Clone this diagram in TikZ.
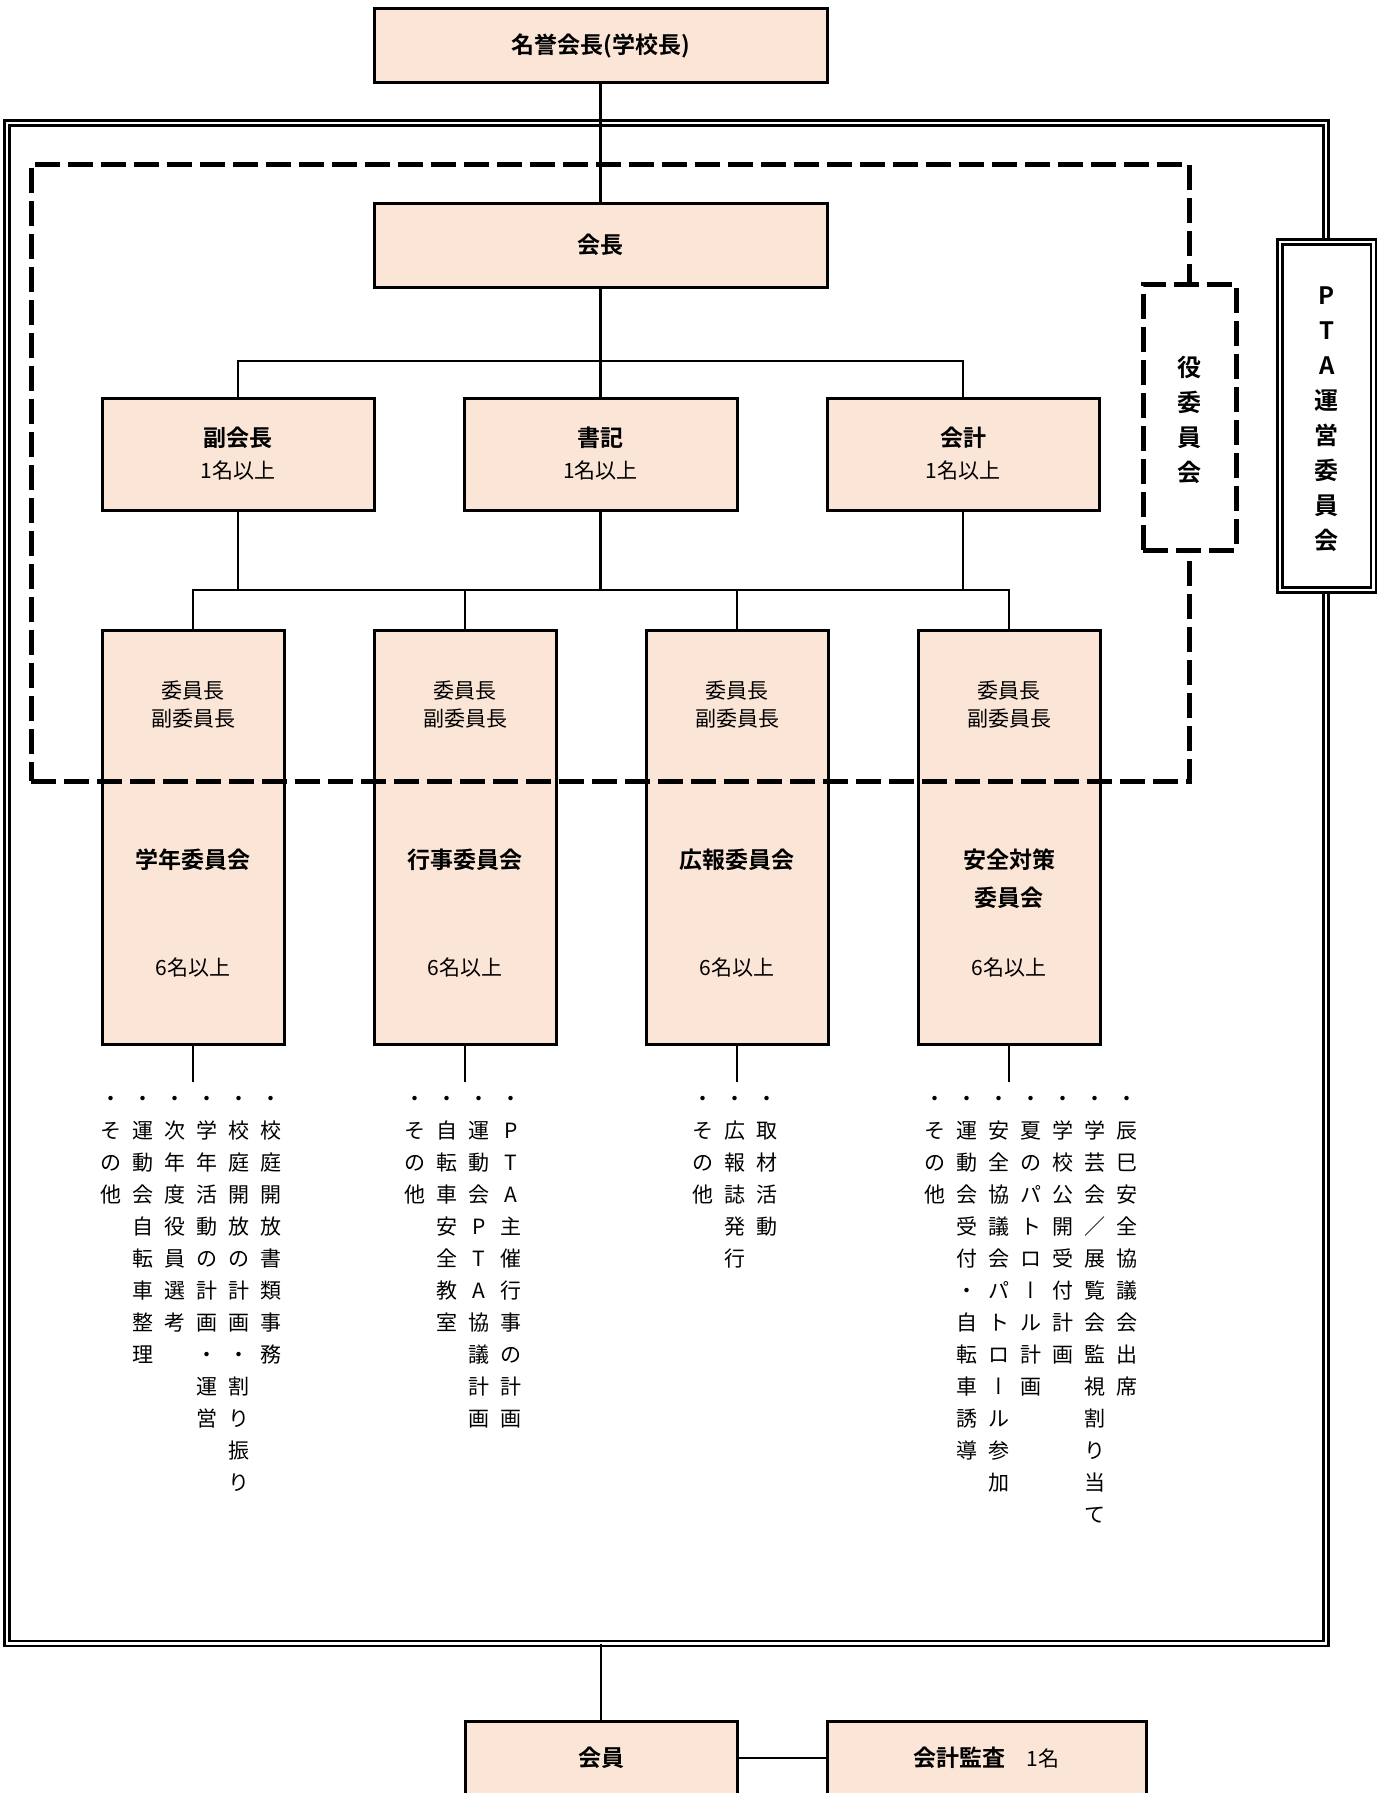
\documentclass[tikz,border=0pt]{standalone}
\usepackage{fontspec}
\setmainfont{Noto Sans CJK JP}[BoldFont={Noto Sans CJK JP Bold}]
\newfontfamily\tatevert{Noto Sans CJK JP}[RawFeature=+vert]
\definecolor{BoxClr}{HTML}{FBE5D6}

\begin{document}
\begin{tikzpicture}[x=0.5pt,y=-0.5pt,
  box/.style={draw,line width=1.5pt,fill=BoxClr,inner sep=0pt,outer sep=0pt},
  link/.style={line width=1.35pt},
  dframe/.style={draw,double,line width=1.35pt,double distance=1.25pt,inner sep=0pt,outer sep=0pt},
  yframe/.style={draw,line width=2.5pt,dash pattern=on 12.5pt off 4pt,inner sep=0pt,outer sep=0pt},
  title/.style={font=\bfseries\fontsize{11.5pt}{19pt}\selectfont},
  memo/.style={font=\fontsize{10.5pt}{14pt}\selectfont},
  tate/.style={inner sep=0pt,text height=9.2pt,text depth=1.3pt,font=\fontsize{10.5pt}{12pt}\selectfont},
  tatebold/.style={inner sep=0pt,text height=10.5pt,text depth=1.5pt,font=\bfseries\fontsize{12pt}{14pt}\selectfont}]
\useasboundingbox (0,0) rectangle (1383,1793);
\clip (0,0) rectangle (1383,1793);

% The PTA frame (double line).
\node[dframe,minimum width=659.6pt,minimum height=760.25pt] (unei) at (666.4,883.25) {};

% Draw the boxes.
\node[box,title,minimum width=226.5pt,minimum height=37pt] (meiyo) at (600.5,46) {名誉会長(学校長)};
\node[box,title,minimum width=226.5pt,minimum height=42pt] (kaicho) at (600.5,245) {会長};

\node[box,minimum width=136pt,minimum height=56pt] (fuku) at (238,454) {};
\node[box,minimum width=136.5pt,minimum height=56pt] (shoki) at (600.5,454) {};
\node[box,minimum width=136pt,minimum height=56pt] (kaikei) at (963,454) {};

\node[box,minimum width=91pt,minimum height=207pt] (gakunen) at (193,837) {};
\node[box,minimum width=91pt,minimum height=207pt] (gyoji) at (465,837) {};
\node[box,minimum width=91pt,minimum height=207pt] (koho) at (737,837) {};
\node[box,minimum width=91pt,minimum height=207pt] (anzen) at (1009,837) {};

\node[box,title,minimum width=136pt,minimum height=37pt] (kaiin) at (601,1758) {会員};
\node[box,memo,minimum width=159.5pt,minimum height=37pt] (kansa) at (986.5,1758) {{\bfseries\fontsize{11.5pt}{14pt}\selectfont 会計監査}\quad 1名};

% Connect the boxes.
\coordinate (bar1) at (600.5,361);
\coordinate (bar2) at (600.5,590);
\draw[link] (meiyo.south) -- (kaicho.north);
\draw[link] (kaicho.south) -- (shoki.north);
\draw[link] (fuku.north) |- (bar1) -| (kaikei.north);
\draw[link] (shoki.south) -- (bar2);
\draw[link] (fuku.south) -- (fuku.south |- bar2);
\draw[link] (kaikei.south) -- (kaikei.south |- bar2);
\draw[link] (gakunen.north) |- (bar2) -| (anzen.north);
\draw[link] (gyoji.north) -- (gyoji.north |- bar2);
\draw[link] (koho.north) -- (koho.north |- bar2);

\draw[link] (gakunen.south) -- ++(0,38);
\draw[link] (gyoji.south) -- ++(0,38);
\draw[link] (koho.south) -- ++(0,38);
\draw[link] (anzen.south) -- ++(0,38);

\draw[link] (kaiin.north) -- (kaiin.north |- unei.south);
\draw[link] (kaiin.east) -- (kansa.west);

% The officers' frame (dashed) and the two side labels.
\node[yframe,minimum width=579pt,minimum height=308.5pt] (yakuF) at (610,472.5) {};
\node[yframe,fill=white,minimum width=46.5pt,minimum height=133pt] (yakuin) at (1189.5,417) {};
\node[dframe,fill=white,minimum width=46.75pt,minimum height=174pt] (pta) at (1326.75,416) {};

\foreach \c [count=\i from 0] in {役,委,員,会}
  \node[tatebold] (yakuin-\i) at (1189.5,367+35*\i) {\c};
\foreach \c [count=\i from 0] in {P,T,A,運,営,委,員,会}
  \node[tatebold] (pta-\i) at (1326.75,295+35*\i) {\c};

% Texts in the boxes.
\node[title] (fukuN) at ([yshift=-20pt]fuku.north) {副会長};
\node[memo] (fukuC) at ([yshift=-36.5pt]fuku.north) {1名以上};
\node[title] (shokiN) at ([yshift=-20pt]shoki.north) {書記};
\node[memo] (shokiC) at ([yshift=-36.5pt]shoki.north) {1名以上};
\node[title] (kaikeiN) at ([yshift=-20pt]kaikei.north) {会計};
\node[memo] (kaikeiC) at ([yshift=-36.5pt]kaikei.north) {1名以上};

\node[memo,align=center] (gakunenY) at ([yshift=-37.5pt]gakunen.north) {委員長\\副委員長};
\node[title] (gakunenN) at ([yshift=-115pt]gakunen.north) {学年委員会};
\node[memo] (gakunenC) at ([yshift=-169pt]gakunen.north) {6名以上};

\node[memo,align=center] (gyojiY) at ([yshift=-37.5pt]gyoji.north) {委員長\\副委員長};
\node[title] (gyojiN) at ([yshift=-115pt]gyoji.north) {行事委員会};
\node[memo] (gyojiC) at ([yshift=-169pt]gyoji.north) {6名以上};

\node[memo,align=center] (kohoY) at ([yshift=-37.5pt]koho.north) {委員長\\副委員長};
\node[title] (kohoN) at ([yshift=-115pt]koho.north) {広報委員会};
\node[memo] (kohoC) at ([yshift=-169pt]koho.north) {6名以上};

\node[memo,align=center] (anzenY) at ([yshift=-37.5pt]anzen.north) {委員長\\副委員長};
\node[title,align=center] (anzenN) at ([yshift=-124.5pt]anzen.north) {安全対策\\委員会};
\node[memo] (anzenC) at ([yshift=-169pt]anzen.north) {6名以上};

% What each committee does (written top to bottom).
\foreach \c [count=\i from 0] in {・,そ,の,他}
  \node[tate] (gakunen1-\i) at (111,1099+32*\i) {\c};
\foreach \c [count=\i from 0] in {・,運,動,会,自,転,車,整,理}
  \node[tate] (gakunen2-\i) at (143,1099+32*\i) {\c};
\foreach \c [count=\i from 0] in {・,次,年,度,役,員,選,考}
  \node[tate] (gakunen3-\i) at (175,1099+32*\i) {\c};
\foreach \c [count=\i from 0] in {・,学,年,活,動,の,計,画,・,運,営}
  \node[tate] (gakunen4-\i) at (207,1099+32*\i) {\c};
\foreach \c [count=\i from 0] in {・,校,庭,開,放,の,計,画,・,割,り,振,り}
  \node[tate] (gakunen5-\i) at (239,1099+32*\i) {\c};
\foreach \c [count=\i from 0] in {・,校,庭,開,放,書,類,事,務}
  \node[tate] (gakunen6-\i) at (271,1099+32*\i) {\c};

\foreach \c [count=\i from 0] in {・,そ,の,他}
  \node[tate] (gyoji1-\i) at (415,1099+32*\i) {\c};
\foreach \c [count=\i from 0] in {・,自,転,車,安,全,教,室}
  \node[tate] (gyoji2-\i) at (447,1099+32*\i) {\c};
\foreach \c [count=\i from 0] in {・,運,動,会,P,T,A,協,議,計,画}
  \node[tate] (gyoji3-\i) at (479,1099+32*\i) {\c};
\foreach \c [count=\i from 0] in {・,P,T,A,主,催,行,事,の,計,画}
  \node[tate] (gyoji4-\i) at (511,1099+32*\i) {\c};

\foreach \c [count=\i from 0] in {・,そ,の,他}
  \node[tate] (koho1-\i) at (703,1099+32*\i) {\c};
\foreach \c [count=\i from 0] in {・,広,報,誌,発,行}
  \node[tate] (koho2-\i) at (735,1099+32*\i) {\c};
\foreach \c [count=\i from 0] in {・,取,材,活,動}
  \node[tate] (koho3-\i) at (767,1099+32*\i) {\c};

\foreach \c [count=\i from 0] in {・,そ,の,他}
  \node[tate] (anzen1-\i) at (935,1099+32*\i) {\c};
\foreach \c [count=\i from 0] in {・,運,動,会,受,付,・,自,転,車,誘,導}
  \node[tate] (anzen2-\i) at (967,1099+32*\i) {\c};
\foreach \c [count=\i from 0] in {・,安,全,協,議,会,パ,ト,ロ,{\tatevert ー},ル,参,加}
  \node[tate] (anzen3-\i) at (999,1099+32*\i) {\c};
\foreach \c [count=\i from 0] in {・,夏,の,パ,ト,ロ,{\tatevert ー},ル,計,画}
  \node[tate] (anzen4-\i) at (1031,1099+32*\i) {\c};
\foreach \c [count=\i from 0] in {・,学,校,公,開,受,付,計,画}
  \node[tate] (anzen5-\i) at (1063,1099+32*\i) {\c};
\foreach \c [count=\i from 0] in {・,学,芸,会,／,展,覧,会,監,視,割,り,当,て}
  \node[tate] (anzen6-\i) at (1095,1099+32*\i) {\c};
\foreach \c [count=\i from 0] in {・,辰,巳,安,全,協,議,会,出,席}
  \node[tate] (anzen7-\i) at (1127,1099+32*\i) {\c};

\end{tikzpicture}
\end{document}
